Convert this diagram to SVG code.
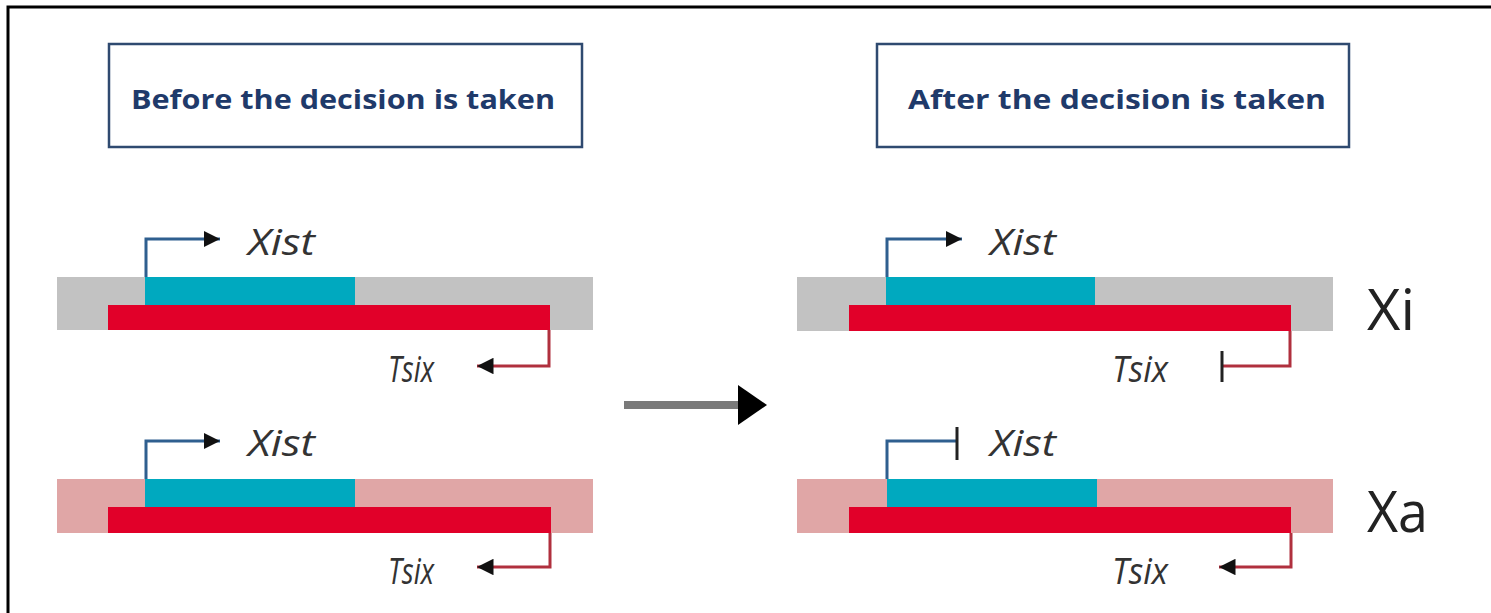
<svg xmlns="http://www.w3.org/2000/svg" width="1491" height="613" viewBox="0 0 1491 613">
<style>
.title{font-family:"Open Sans","Liberation Sans",sans-serif;font-weight:bold;font-size:27px;fill:#1f3a6a}
.gene{font-family:"Open Sans","Liberation Sans",sans-serif;font-style:italic;font-size:37px;fill:#333}
.lab{font-family:"Open Sans","Liberation Sans",sans-serif;font-size:56px;fill:#222}
.gray{fill:#c2c2c2}
.pink{fill:#e0a6a6}
.cyan{fill:#00a9bf}
.red{fill:#e10029}
.prom{fill:none;stroke:#2f5f8f;stroke-width:3}
.tsx{fill:none;stroke:#b0303e;stroke-width:3}
.bar{stroke:#222;stroke-width:3}
</style>
<defs>
<marker id="ah" viewBox="0 0 10 10" refX="10" refY="5" markerWidth="5.5" markerHeight="5.5" markerUnits="strokeWidth" orient="auto">
<path d="M0,0 L10,5 L0,10 Z" fill="#111"/>
</marker>
</defs>
<rect width="1491" height="613" fill="#fff"/>
<path d="M8,613 V7 H1491" fill="none" stroke="#000" stroke-width="3"/>

<g id="box-before">
<rect x="109" y="44" width="473" height="103" fill="#fff" stroke="#2f4a70" stroke-width="2.5"/>
<text class="title" x="131" y="109" textLength="424" lengthAdjust="spacingAndGlyphs">Before the decision is taken</text>
</g>
<g id="box-after">
<rect x="877" y="44" width="472" height="103" fill="#fff" stroke="#2f4a70" stroke-width="2.5"/>
<text class="title" x="908" y="109" textLength="418" lengthAdjust="spacingAndGlyphs">After the decision is taken</text>
</g>

<g id="chr-tl">
<rect class="gray" x="57" y="277" width="536" height="53"/>
<rect class="cyan" x="145" y="277" width="210" height="29"/>
<rect class="red" x="108" y="305" width="442" height="25"/>
<text class="gene" x="248" y="255" textLength="67" lengthAdjust="spacingAndGlyphs">Xist</text>
<text class="gene" x="388" y="382" textLength="46" lengthAdjust="spacingAndGlyphs">Tsix</text>
</g>
<g id="chr-bl">
<rect class="pink" x="57" y="479" width="536" height="54"/>
<rect class="cyan" x="145" y="479" width="210" height="29"/>
<rect class="red" x="108" y="507" width="443" height="26"/>
<text class="gene" x="248" y="456" textLength="67" lengthAdjust="spacingAndGlyphs">Xist</text>
<text class="gene" x="388" y="584" textLength="46" lengthAdjust="spacingAndGlyphs">Tsix</text>
</g>
<g id="chr-tr">
<rect class="gray" x="797" y="277" width="536" height="54"/>
<rect class="cyan" x="886" y="277" width="209" height="29"/>
<rect class="red" x="849" y="305" width="442" height="26"/>
<text class="gene" x="990" y="255" textLength="66" lengthAdjust="spacingAndGlyphs">Xist</text>
<text class="gene" x="1112" y="382" textLength="56" lengthAdjust="spacingAndGlyphs">Tsix</text>
<text class="lab" x="1367" y="330" textLength="48" lengthAdjust="spacingAndGlyphs">Xi</text>
</g>
<g id="chr-br">
<rect class="pink" x="797" y="479" width="536" height="54"/>
<rect class="cyan" x="887" y="479" width="210" height="29"/>
<rect class="red" x="849" y="507" width="442" height="26"/>
<text class="gene" x="990" y="456" textLength="66" lengthAdjust="spacingAndGlyphs">Xist</text>
<text class="gene" x="1112" y="584" textLength="56" lengthAdjust="spacingAndGlyphs">Tsix</text>
<text class="lab" x="1367" y="532" textLength="61" lengthAdjust="spacingAndGlyphs">Xa</text>
</g>

<g id="connectors">
<path class="prom" d="M146,277 V239 H220" marker-end="url(#ah)"/>
<path class="tsx" d="M549,330 V366 H477" marker-end="url(#ah)"/>
<path class="prom" d="M146,479 V441 H220" marker-end="url(#ah)"/>
<path class="tsx" d="M550,533 V567 H477" marker-end="url(#ah)"/>
<path class="prom" d="M887,277 V239 H962" marker-end="url(#ah)"/>
<path class="tsx" d="M1290,331 V366 H1222"/>
<line class="bar" x1="1222" y1="351" x2="1222" y2="382"/>
<path class="prom" d="M887,479 V441 H957"/>
<line class="bar" x1="957" y1="427" x2="957" y2="460"/>
<path class="tsx" d="M1291,533 V567 H1219" marker-end="url(#ah)"/>
<line x1="624" y1="405" x2="742" y2="405" stroke="#7a7a7a" stroke-width="8"/>
<path d="M738,385 L767,405 L738,425 Z" fill="#000"/>
</g>
</svg>
